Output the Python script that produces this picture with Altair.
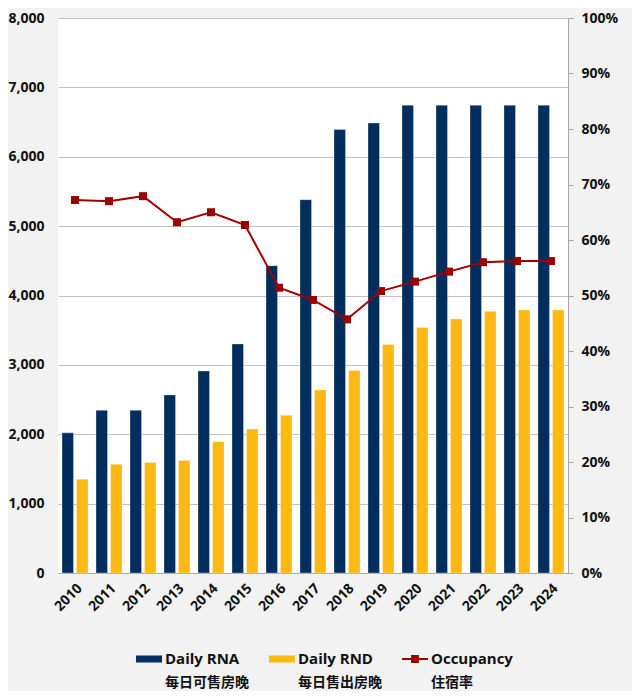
import altair as alt
import pandas as pd

years = [str(y) for y in range(2010, 2025)]
rna = [2020, 2345, 2345, 2567, 2913, 3302, 4430, 5381, 6391, 6486, 6743, 6743, 6743, 6743, 6743]
rnd = [1352, 1566, 1594, 1623, 1893, 2074, 2273, 2638, 2918, 3293, 3540, 3663, 3772, 3791, 3791]
occ = [0.672, 0.670, 0.679, 0.632, 0.650, 0.627, 0.514, 0.492, 0.457, 0.508, 0.525, 0.543, 0.560, 0.562, 0.562]
series_en = ["Daily RNA", "Daily RND", "Occupancy"]
series_cn = ["每日可售房晚", "每日售出房晚", "住宿率"]
colors = ["#002F5F", "#FDB913", "#990000"]
left_ticks = list(range(0, 8001, 1000))
right_ticks = [i / 10 for i in range(11)]

FONT = "Open Sans, Noto Sans CJK SC, sans-serif"
GRID = "#c0c0c0"
AXC = "#a8a8a8"
TXT = "#111111"

bar_df = pd.DataFrame(
    [{"year": y, "series": series_en[0], "value": v} for y, v in zip(years, rna)]
    + [{"year": y, "series": series_en[1], "value": v} for y, v in zip(years, rnd)]
)
occ_df = pd.DataFrame({"year": years, "occ": occ})
en_df = pd.DataFrame({"series": series_en, "label": series_en, "row": "en"})
cn_df = pd.DataFrame({"series": series_en, "label": series_cn, "row": "cn"})

color_scale = alt.Scale(domain=series_en, range=colors)

x_enc = alt.X(
    "year:N", sort=years,
    scale=alt.Scale(paddingInner=0.235, paddingOuter=0.118),
    axis=alt.Axis(title=None, labelAngle=-45, labelFontSize=14, labelFontWeight="bold",
                  labelFont=FONT, labelColor=TXT, ticks=False, domainColor=AXC,
                  labelPadding=8, grid=False),
)

bars = alt.Chart(bar_df).mark_bar(stroke="white", strokeWidth=0.5, strokeOpacity=0.6).encode(
    x=x_enc,
    xOffset=alt.XOffset("series:N", sort=series_en[:2],
                        scale=alt.Scale(paddingInner=0.207, paddingOuter=0)),
    y=alt.Y("value:Q", scale=alt.Scale(domain=[0, 8000]),
            axis=alt.Axis(title=None, values=left_ticks, format=",d", grid=True, gridColor=GRID,
                          domain=False, ticks=False, tickSize=0, labelPadding=14,
                          labelFontSize=14, labelFontWeight="bold", labelFont=FONT,
                          labelColor=TXT)),
    color=alt.Color("series:N", scale=color_scale, legend=None),
)

y_occ = alt.Y("occ:Q", scale=alt.Scale(domain=[0, 1]),
              axis=alt.Axis(title=None, orient="right", values=right_ticks, format=".0%",
                            grid=False, domainColor=AXC, tickColor=AXC, tickSize=5,
                            labelPadding=8, labelFontSize=14, labelFontWeight="bold",
                            labelFont=FONT, labelColor=TXT))

line = alt.Chart(occ_df).mark_line(color="#A00000", strokeWidth=2).encode(
    x=alt.X("year:N", sort=years), y=y_occ)
pts = alt.Chart(occ_df).mark_point(shape="square", filled=True, size=64, color="#990000",
                                   opacity=1).encode(
    x=alt.X("year:N", sort=years), y=y_occ)
main = alt.layer(bars, alt.layer(line, pts)).resolve_scale(y="independent")

# legend built from the series lists, placed by its own point scales below the plot
bar_path = "M-1,-0.27H1V0.27H-1Z"
line_path = "M-1,-0.07H1V0.07H-1ZM-0.3,-0.3H0.3V0.3H-0.3Z"
leg_x = alt.X("series:N", sort=series_en,
              scale=alt.Scale(type="point", domain=series_en, range=[91, 357], padding=0),
              axis=None)
leg_y = alt.Y("row:N", scale=alt.Scale(type="point", domain=["en", "cn"], range=[641, 665],
                                       padding=0), axis=None)
sym = alt.Chart(en_df).mark_point(filled=True, size=676, strokeWidth=0, opacity=1).encode(
    x=leg_x, y=leg_y,
    color=alt.Color("series:N", scale=color_scale, legend=None),
    shape=alt.Shape("series:N", scale=alt.Scale(domain=series_en,
                                                range=[bar_path, bar_path, line_path]),
                    legend=None),
)
txt_style = dict(align="left", baseline="middle", dx=16, fontWeight="bold",
                 font=FONT, color=TXT)
en_txt = alt.Chart(en_df).mark_text(fontSize=15, **txt_style).encode(
    x=leg_x, y=leg_y, text="label:N")
cn_txt = alt.Chart(cn_df).mark_text(fontSize=14, **txt_style).encode(
    x=leg_x, y=leg_y, text="label:N")
legend_layer = alt.layer(sym, en_txt, cn_txt)

chart = alt.layer(main, legend_layer).resolve_scale(x="independent", y="independent").properties(
    width=510, height=555,
    padding={"left": 50, "top": 10, "right": 64, "bottom": 118},
    autosize="none",
    background="#f2f2f2",
).configure_view(fill="white", stroke=None)

chart.save("out.html", embed_options={"renderer": "svg", "actions": False})
